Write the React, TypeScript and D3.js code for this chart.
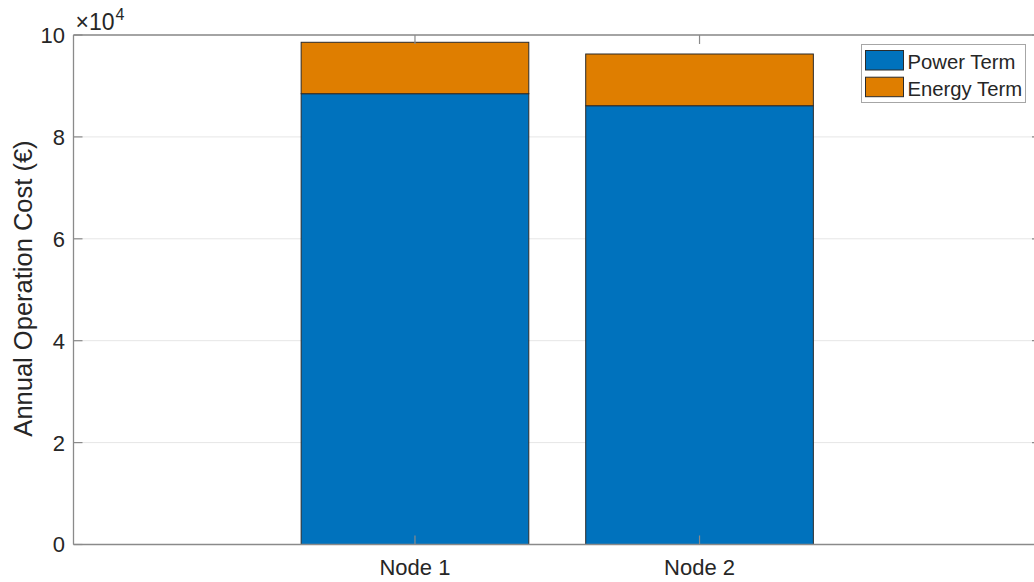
import React from "react";
import * as d3 from "d3";

const categories = ["Node 1", "Node 2"];
const powerTerm = [88480, 86120];
const energyTerm = [10090, 10150];
const seriesNames = ["Power Term", "Energy Term"];
const seriesColors = ["#0072BD", "#DF7E00"];
const yTicks = [0, 2, 4, 6, 8, 10];

const W = 1034;
const H = 582;
const left = 73.5;
const right = 1041;
const top = 35;
const bottom = 544.5;
const FONT = "'Liberation Sans', Arial, Helvetica, sans-serif";
const TXT = "#262626";
const AX = "#8a8a8a";

export default function App() {
  const x = d3.scaleLinear().domain([-0.2, 3.2]).range([left, right]);
  const y = d3.scaleLinear().domain([0, 100000]).range([bottom, top]);
  const barW = x(0.8) - x(0);
  const stacked = d3.stack<any>().keys(["p", "e"])(
    categories.map((c, i) => ({ c, i, p: powerTerm[i], e: energyTerm[i] }))
  );
  const tickLen = 9;
  return (
    <svg width={W} height={H} style={{ position: "absolute", left: 0, top: 0, background: "#fff" }} fontFamily={FONT}>
      <rect x={0} y={0} width={W} height={H} fill="#fff" />
      {/* grid */}
      {yTicks.map((t) => (
        <line key={"g" + t} x1={left} x2={right} y1={y(t * 1e4)} y2={y(t * 1e4)} stroke="#e6e6e6" strokeWidth={1} />
      ))}
      {/* bars */}
      {stacked.map((s, si) =>
        s.map((d, i) => (
          <rect
            key={si + "-" + i}
            x={x(i + 1) - barW / 2}
            y={y(d[1])}
            width={barW}
            height={y(d[0]) - y(d[1])}
            fill={seriesColors[si]}
            stroke="#2b2b2b"
            strokeWidth={1}
          />
        ))
      )}
      {/* axes box */}
      <line x1={left} x2={right} y1={bottom} y2={bottom} stroke={AX} strokeWidth={1.3} />
      <line x1={left} x2={right} y1={top} y2={top} stroke={AX} strokeWidth={1.3} />
      <line x1={left} x2={left} y1={top} y2={bottom} stroke={AX} strokeWidth={1.3} />
      <line x1={right} x2={right} y1={top} y2={bottom} stroke={AX} strokeWidth={1.3} />
      {/* y ticks */}
      {yTicks.map((t) => (
        <g key={"yt" + t}>
          <line x1={left} x2={left + tickLen} y1={y(t * 1e4)} y2={y(t * 1e4)} stroke={AX} strokeWidth={1.2} />
          <line x1={right} x2={right - tickLen} y1={y(t * 1e4)} y2={y(t * 1e4)} stroke={AX} strokeWidth={1.2} />
          <text x={left - 8.5} y={y(t * 1e4)} dy="0.36em" textAnchor="end" fontSize={22} fill={TXT}>
            {t}
          </text>
        </g>
      ))}
      {/* x ticks */}
      {categories.map((c, i) => (
        <g key={"xt" + i}>
          <line x1={x(i + 1)} x2={x(i + 1)} y1={bottom} y2={bottom - tickLen} stroke={AX} strokeWidth={1.2} />
          <line x1={x(i + 1)} x2={x(i + 1)} y1={top} y2={top + tickLen} stroke={AX} strokeWidth={1.2} />
          <text x={x(i + 1)} y={575} textAnchor="middle" fontSize={22} fill={TXT}>
            {c}
          </text>
        </g>
      ))}
      {/* exponent */}
      <text x={75.5} y={29.5} fontSize={23} fill={TXT}>
        ×10<tspan dx={1} dy={-10} fontSize={16}>4</tspan>
      </text>
      {/* y label */}
      <text
        transform={`translate(32, 288.5) rotate(-90)`}
        textAnchor="middle"
        fontSize={25.5}
        fill={TXT}
      >
        Annual Operation Cost (€)
      </text>
      {/* legend */}
      <rect x={861.5} y={44.5} width={164} height={58} fill="#fff" stroke="#a6a6a6" strokeWidth={1} />
      {seriesNames.map((n, i) => (
        <g key={"lg" + i}>
          <rect x={865.5} y={50.5 + i * 26.7} width={38} height={19.5} fill={seriesColors[i]} stroke="#2b2b2b" strokeWidth={1} />
          <text x={907.5} y={69 + i * 26.7} fontSize={20.3} fill={TXT}>
            {n}
          </text>
        </g>
      ))}
    </svg>
  );
}
